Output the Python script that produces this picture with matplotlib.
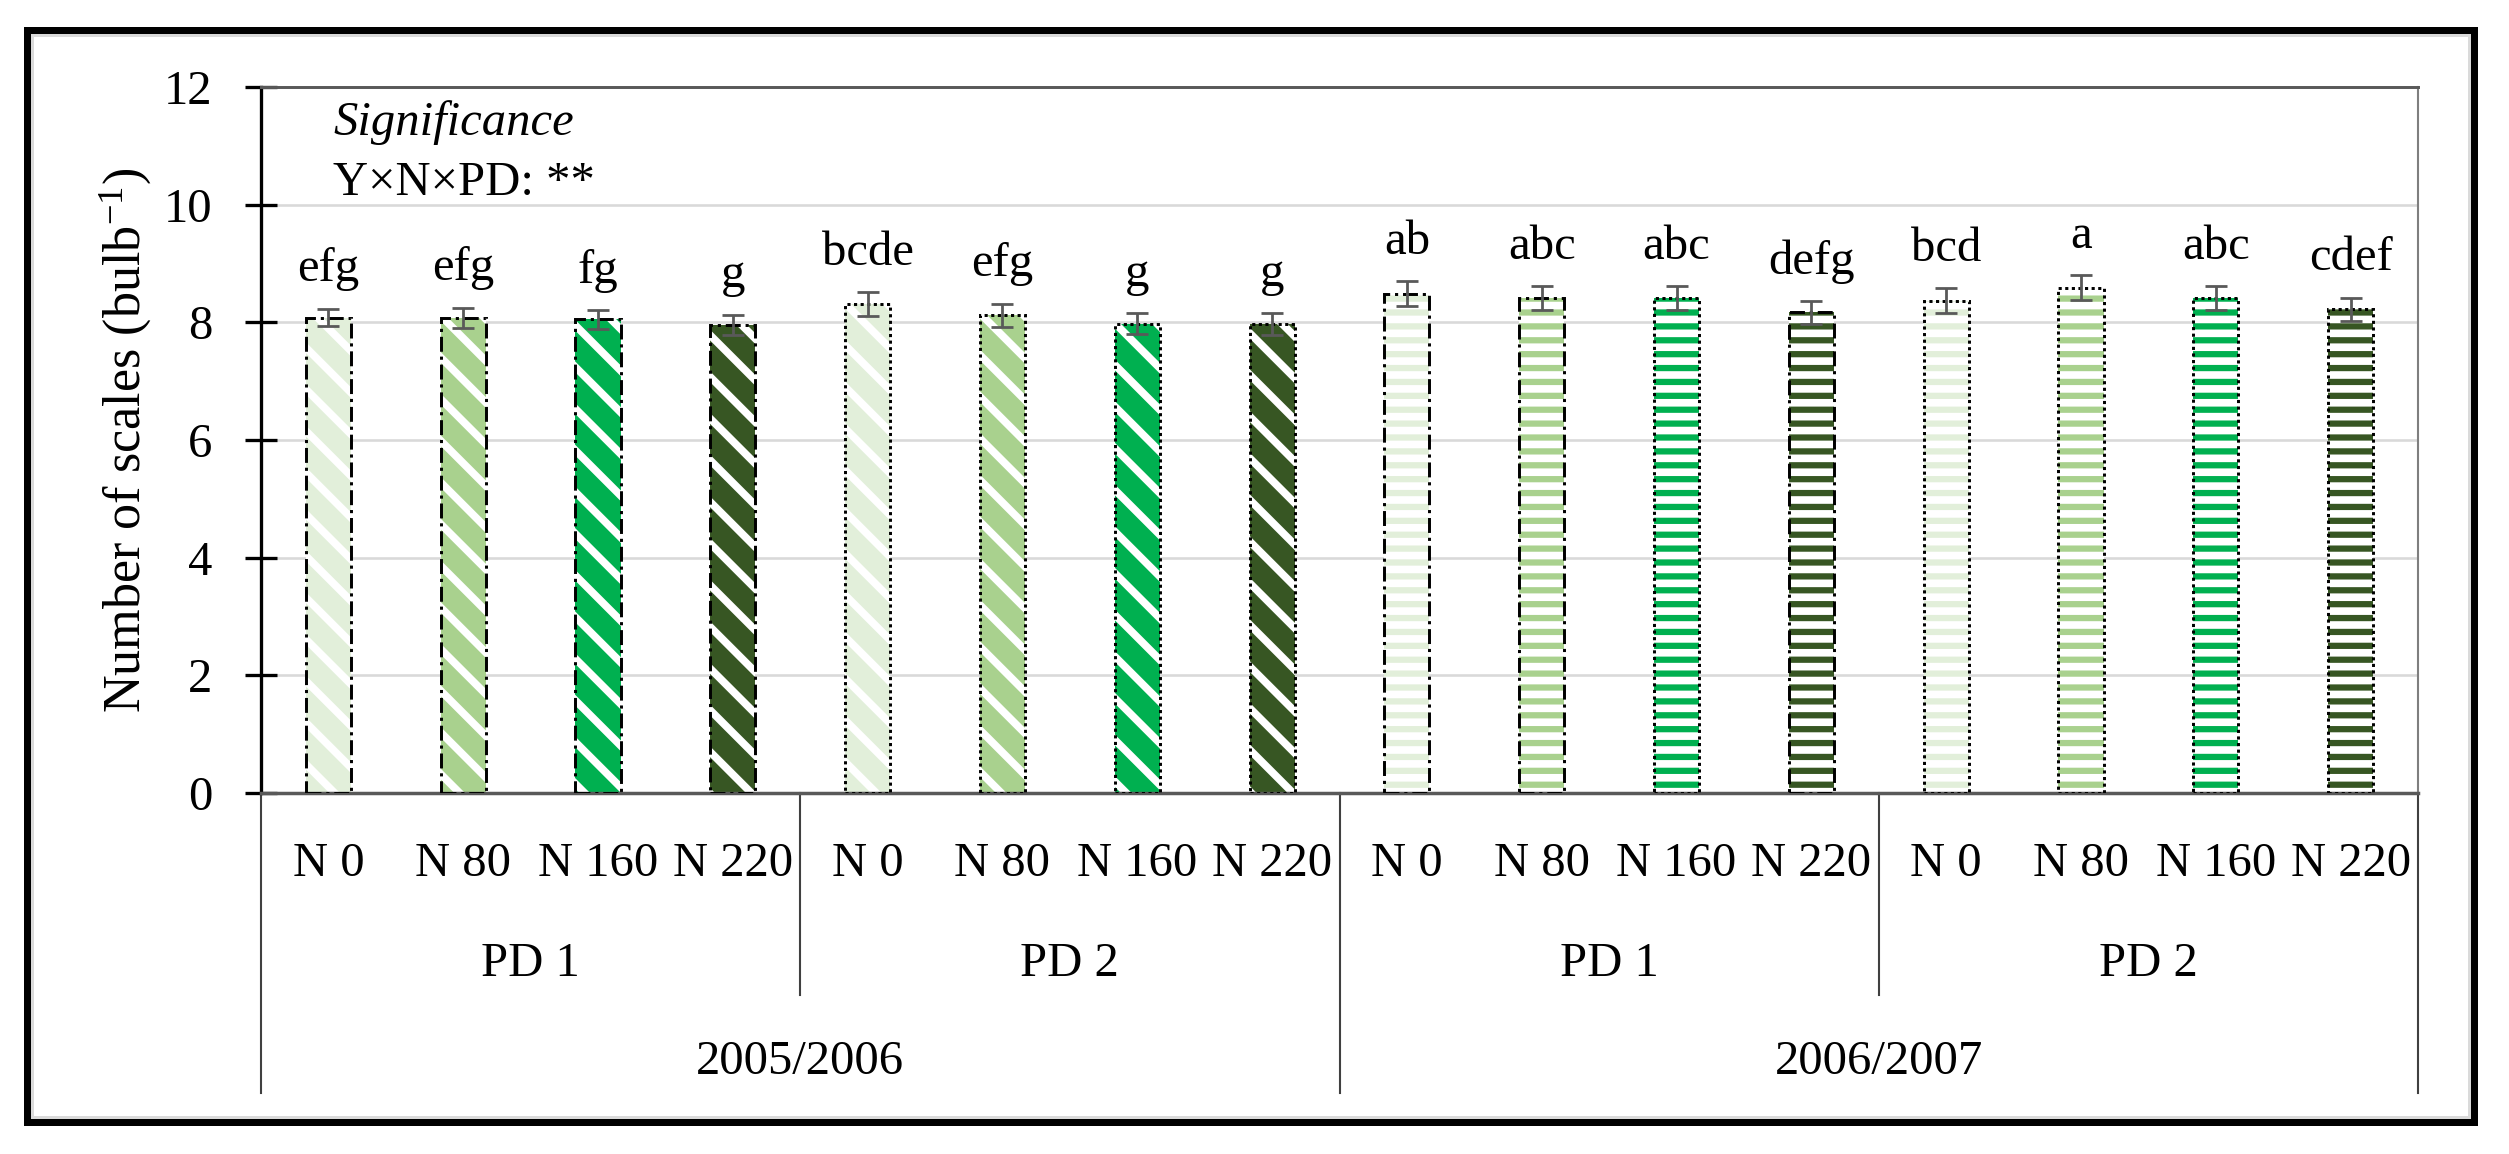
import matplotlib
matplotlib.use('Agg')
import matplotlib.pyplot as plt
from matplotlib.patches import Rectangle
import numpy as np

# ---------------- data ----------------
years = ['2005/2006', '2006/2007']
planting_dates = ['PD 1', 'PD 2']
n_levels = ['N 0', 'N 80', 'N 160', 'N 220']
values = [8.08, 8.08, 8.05, 7.96,
          8.31, 8.12, 7.98, 7.97,
          8.49, 8.41, 8.41, 8.17,
          8.37, 8.59, 8.41, 8.22]
errors = [0.15, 0.17, 0.16, 0.17,
          0.20, 0.20, 0.18, 0.19,
          0.21, 0.20, 0.20, 0.19,
          0.21, 0.21, 0.20, 0.20]
letters = ['efg', 'efg', 'fg', 'g',
           'bcde', 'efg', 'g', 'g',
           'ab', 'abc', 'abc', 'defg',
           'bcd', 'a', 'abc', 'cdef']
y_ticks = [0, 2, 4, 6, 8, 10, 12]
sig_title = 'Significance'
sig_text = 'Y×N×PD: **'
y_label = 'Number of scales (bulb$^{\\mathregular{-1}}$)'

# ---------------- style ----------------
n_colors = ['#E2EFDA', '#A9D18E', '#00B050', '#375623']
W, H, DPI = 2509, 1154, 250
px = 72.0 / DPI  # points per pixel

plt.rcParams.update({
    'font.family': ['Liberation Serif', 'DejaVu Serif'],
    'font.size': 14,
    'mathtext.fontset': 'custom',
    'mathtext.rm': 'Liberation Serif',
    'mathtext.it': 'Liberation Serif:italic',
    'hatch.linewidth': 1.8,
    'lines.scale_dashes': False,
})

fig = plt.figure(figsize=(W / DPI, H / DPI), dpi=DPI)
L, R, T, B = 261, 2418, 87, 793
ax = fig.add_axes([L / W, 1 - B / H, (R - L) / W, (B - T) / H])


def ay(py):
    return (B - py) / (B - T)


def axx(pxx):
    return (pxx - L) / (R - L)


x = np.arange(len(values))
bar_w = 0.335
dashdot = (0, (4.3, 1.4, 0.9, 1.4))
dotted = (0, (0.9, 1.0))

for i, v in enumerate(values):
    year = i // 8
    pd = (i // 4) % 2
    n = i % 4
    col = n_colors[n]
    if year == 0:
        face, hcol, hatch, hlw = col, 'white', '\\\\', 2.2
    else:
        face, hcol, hatch, hlw = 'white', col, '---', 1.8
    with plt.rc_context({'hatch.linewidth': hlw}):
        bars = ax.bar(x[i], v, bar_w, color=face, edgecolor=hcol, hatch=hatch,
                      linewidth=0, zorder=2)
    for p in bars:
        if hasattr(p, 'set_hatch_linewidth'):
            p.set_hatch_linewidth(hlw)
    if pd == 0 and not (year == 1 and n == 2):
        ls = dashdot
    else:
        ls = dotted
    ax.bar(x[i], v, bar_w, fill=False, edgecolor='black', linewidth=0.85,
           linestyle=ls, zorder=3)

ax.errorbar(x, values, yerr=errors, fmt='none', ecolor='#595959',
            elinewidth=0.8, capsize=3.3, capthick=0.8, zorder=5)

for i, lab in enumerate(letters):
    ax.annotate(lab, (x[i], values[i] + errors[i]), xytext=(0, 5),
                textcoords='offset points', ha='center', va='bottom',
                fontsize=14, zorder=6)

# axes
ax.set_xlim(-0.5, len(values) - 0.5)
ax.set_ylim(0, 12)
ax.set_yticks(y_ticks)
ax.set_xticks([])
ax.tick_params(axis='y', direction='inout', length=9.5, width=0.95,
               pad=9.2, labelsize=14, colors='black')
ax.yaxis.grid(True, color='#D9D9D9', linewidth=0.75)
ax.set_axisbelow(True)
ax.spines['left'].set_color('black')
ax.spines['left'].set_linewidth(0.95)
ax.spines['bottom'].set_color('#595959')
ax.spines['bottom'].set_linewidth(1.0)
ax.spines['top'].set_color('#595959')
ax.spines['top'].set_linewidth(0.85)
ax.spines['right'].set_color('#7F7F7F')
ax.spines['right'].set_linewidth(0.6)

# significance note
ax.text(axx(333), ay(135), sig_title, style='italic', transform=ax.transAxes,
        ha='left', va='baseline', fontsize=14)
ax.text(axx(333), ay(195), sig_text, transform=ax.transAxes,
        ha='left', va='baseline', fontsize=14)

# y label
fig.text(125 / W, 1 - 440 / H, y_label, rotation=90, ha='center', va='center',
         fontsize=15)

# hierarchical x axis labels
xt = ax.get_xaxis_transform()
for i in range(len(values)):
    ax.text(x[i], ay(876), n_levels[i % 4], transform=xt, ha='center',
            va='baseline', fontsize=14)
for g in range(4):
    ax.text(g * 4 + 1.5, ay(976), planting_dates[g % 2], transform=xt,
            ha='center', va='baseline', fontsize=14)
for yi in range(2):
    ax.text(yi * 8 + 3.5, ay(1074), years[yi], transform=xt, ha='center',
            va='baseline', fontsize=14)

for xs in [-0.5, 7.5, 15.5]:
    ax.plot([xs, xs], [0, ay(1093)], transform=xt, clip_on=False,
            color='#404040', linewidth=0.6)
for xs in [3.5, 11.5]:
    ax.plot([xs, xs], [0, ay(995)], transform=xt, clip_on=False,
            color='#404040', linewidth=0.6)

# outer frame
fw = 7
fig.patches.append(Rectangle(((23 + fw / 2) / W, 1 - (1125 - fw / 2) / H),
                             (2477 - 23 - fw) / W, (1125 - 26 - fw) / H,
                             transform=fig.transFigure, fill=False,
                             edgecolor='black', linewidth=fw * px))
gw = 3
fig.patches.append(Rectangle(((23 + fw + gw / 2) / W, 1 - (1125 - fw - gw / 2) / H),
                             (2477 - 23 - 2 * fw - gw) / W, (1125 - 26 - 2 * fw - gw) / H,
                             transform=fig.transFigure, fill=False,
                             edgecolor='#DADADA', linewidth=gw * px))

fig.savefig('out.png', dpi=DPI, facecolor='white')
